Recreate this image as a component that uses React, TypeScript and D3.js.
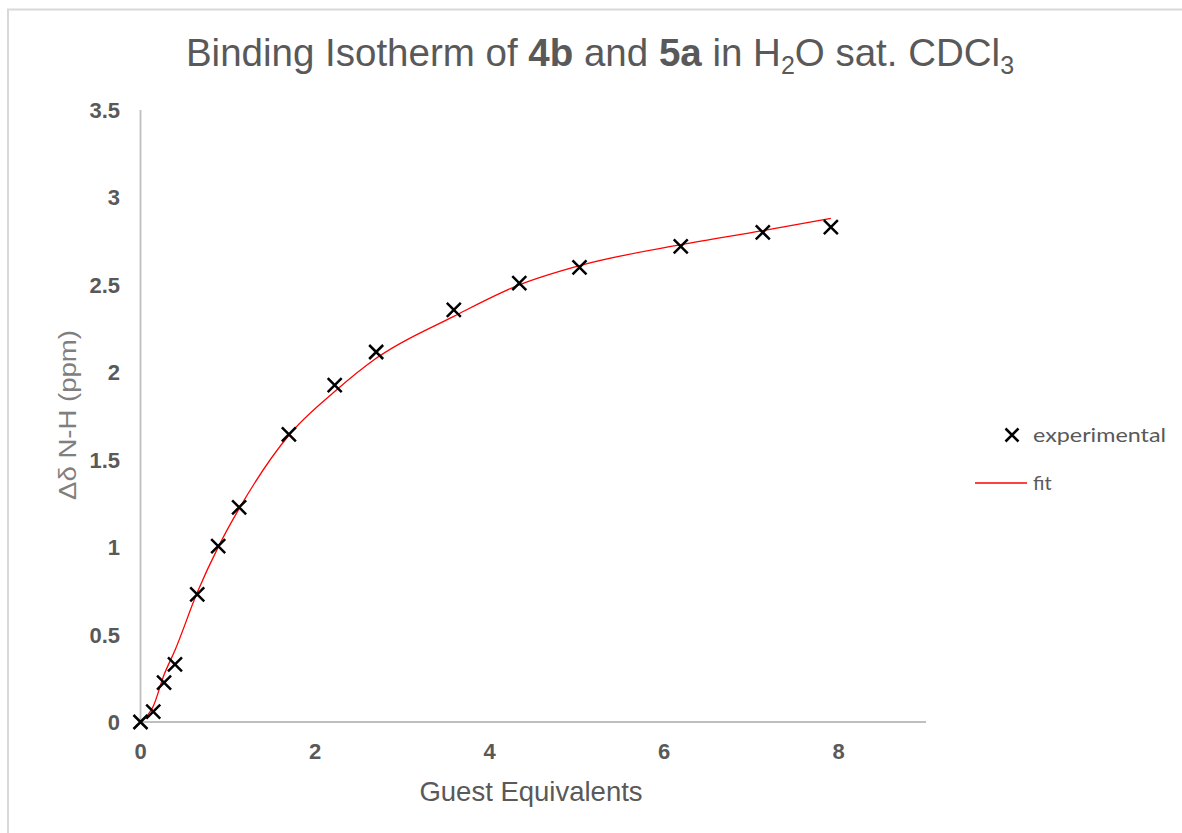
import React from "react";
import * as d3 from "d3";

const guestEq = [0, 0.146, 0.27, 0.395, 0.65, 0.89, 1.13, 1.70, 2.225, 2.70, 3.59, 4.34, 5.03, 6.19, 7.13, 7.91];
const experimental = [0, 0.059, 0.225, 0.33, 0.73, 1.006, 1.228, 1.645, 1.927, 2.116, 2.357, 2.51, 2.60, 2.72, 2.80, 2.83];
const fit = [0, 0.09, 0.27, 0.41, 0.74, 1.00, 1.22, 1.64, 1.89, 2.08, 2.32, 2.50, 2.61, 2.73, 2.81, 2.88];
const xTicks = [0, 2, 4, 6, 8];
const yTicks = [0, 0.5, 1, 1.5, 2, 2.5, 3, 3.5];

const W = 1182;
const H = 833;
const left = 140.5;
const right = 926;
const top = 110;
const bottom = 722;

export default function App() {
  const x = d3.scaleLinear().domain([0, 9]).range([left, right]);
  const y = d3.scaleLinear().domain([0, 3.5]).range([bottom, top]);
  const line = d3
    .line<number>()
    .x((_, i) => x(guestEq[i]))
    .y((d) => y(d))
    .curve(d3.curveMonotoneX);
  const gray = "#595959";
  const xMark = (cx: number, cy: number, s: number, key?: any) => (
    <path
      key={key}
      d={`M${cx - s},${cy - s}L${cx + s},${cy + s}M${cx - s},${cy + s}L${cx + s},${cy - s}`}
      stroke="#000"
      strokeWidth={2.5}
      fill="none"
    />
  );
  return (
    <svg
      width={W}
      height={H}
      style={{ position: "absolute", left: 0, top: 0, background: "#fff" }}
      fontFamily="'Liberation Sans', Arial, sans-serif"
    >
      <rect x={0} y={0} width={W} height={H} fill="#fff" />
      <path d={`M8,${H}V9.5H${W}`} stroke="#d9d9d9" strokeWidth={2} fill="none" />
      <text x={600} y={66} textAnchor="middle" fontSize={38.5} fill={gray}>
        Binding Isotherm of <tspan fontWeight="bold">4b</tspan> and{" "}
        <tspan fontWeight="bold">5a</tspan> in H
        <tspan fontSize={25} dy={8}>2</tspan>
        <tspan dy={-8}>O sat. CDCl</tspan>
        <tspan fontSize={25} dy={8}>3</tspan>
      </text>
      <line x1={left} x2={left} y1={top} y2={bottom} stroke="#bfbfbf" strokeWidth={1.8} />
      <line x1={left} x2={right} y1={bottom} y2={bottom} stroke="#bfbfbf" strokeWidth={1.8} />
      {yTicks.map((t) => (
        <text key={t} x={120} y={y(t) + 8} textAnchor="end" fontSize={22} fontWeight="bold" fill={gray}>
          {t}
        </text>
      ))}
      {xTicks.map((t) => (
        <text key={t} x={x(t)} y={759} textAnchor="middle" fontSize={22} fontWeight="bold" fill={gray}>
          {t}
        </text>
      ))}
      <text x={531} y={801} textAnchor="middle" fontSize={27.5} fill={gray}>
        Guest Equivalents
      </text>
      <text
        transform="translate(76,415) rotate(-90)"
        textAnchor="middle"
        fontSize={23}
        fill="#7f7f7f"
        textLength={170}
        lengthAdjust="spacingAndGlyphs"
      >
        Δδ N-H (ppm)
      </text>
      <path d={line(fit) || ""} stroke="#ff0000" strokeWidth={1.3} fill="none" />
      {experimental.map((v, i) => xMark(x(guestEq[i]), y(v), 7, i))}
      {xMark(1012, 435, 6.5, "lg")}
      <text x={1033} y={442} fontSize={20} fill={gray} fontFamily="Lato, 'Liberation Sans', sans-serif" textLength={133} lengthAdjust="spacingAndGlyphs">
        experimental
      </text>
      <line x1={975} x2={1027} y1={483} y2={483} stroke="#ff0000" strokeWidth={1.3} />
      <text x={1033} y={490} fontSize={20} fill={gray} fontFamily="Lato, 'Liberation Sans', sans-serif">
        fit
      </text>
    </svg>
  );
}
